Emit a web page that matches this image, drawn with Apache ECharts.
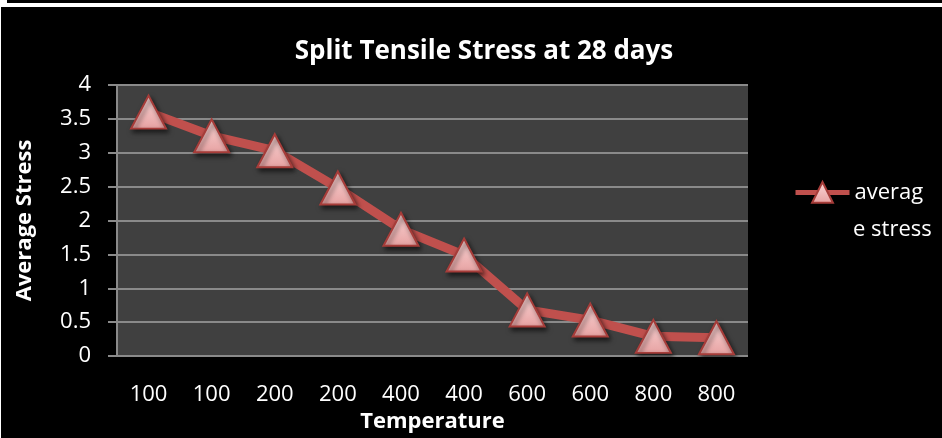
<!DOCTYPE html>
<html>
<head>
<meta charset="utf-8">
<script src="https://cdn.jsdelivr.net/npm/echarts@6/dist/echarts.min.js"></script>
<style>
  html, body { margin: 0; padding: 0; background: #000; }
  #chart { width: 942px; height: 438px; }
</style>
</head>
<body>
<div id="chart"></div>
<script>
// temperatures (x categories) and average split tensile stress
const temperatures = ['100', '100', '200', '200', '400', '400', '600', '600', '800', '800']
const avgStress = [3.6, 3.25, 3.03, 2.48, 1.87, 1.49, 0.68, 0.53, 0.29, 0.27]
const stressTicks = [0, 0.5, 1, 1.5, 2, 2.5, 3, 3.5, 4]

const font = 'Open Sans, Liberation Sans, sans-serif'
const chart = echarts.init(document.getElementById('chart'))

const option = {
  backgroundColor: '#000',
  animation: false,
  title: {
    text: 'Split Tensile Stress at 28 days',
    left: 479,
    top: 34,
    textAlign: 'center',
    textStyle: { color: '#fff', fontFamily: font, fontWeight: 'bold', fontSize: 26 }
  },
  legend: {
    left: 793,
    top: 181,
    padding: 0,
    itemWidth: 54,
    itemHeight: 26,
    formatter: () => 'averag',
    lineStyle: { width: 5 },
    textStyle: { color: '#fff', fontFamily: font, fontSize: 22 }
  },
  grid: {
    left: 117,
    top: 85,
    width: 631,
    height: 271,
    show: true,
    backgroundColor: '#404040',
    borderWidth: 0
  },
  xAxis: {
    type: 'category',
    data: temperatures,
    name: 'Temperature',
    nameLocation: 'middle',
    nameGap: 53,
    nameTextStyle: { color: '#fff', fontFamily: font, fontWeight: 'bold', fontSize: 22 },
    axisLine: { show: false },
    axisTick: { show: false },
    axisLabel: { color: '#fff', fontFamily: font, fontSize: 22, margin: 28 }
  },
  yAxis: {
    type: 'value',
    min: stressTicks[0],
    max: stressTicks[stressTicks.length - 1],
    interval: 0.5,
    name: 'Average Stress',
    nameLocation: 'middle',
    nameGap: 81,
    nameRotate: 90,
    nameTextStyle: { color: '#fff', fontFamily: font, fontWeight: 'bold', fontSize: 22 },
    axisLine: { show: true, lineStyle: { color: '#8a8a8a', width: 2 } },
    axisTick: { show: true, length: 9, lineStyle: { color: '#8a8a8a', width: 2 } },
    splitLine: { lineStyle: { color: '#8a8a8a', width: 2 } },
    axisLabel: { color: '#fff', fontFamily: font, fontSize: 22, margin: 26 }
  },
  series: [{
    name: 'average stress',
    type: 'line',
    data: avgStress,
    symbol: 'triangle',
    symbolSize: [35, 33],
    lineStyle: { color: '#c0504d', width: 9 },
    itemStyle: {
      color: new echarts.graphic.LinearGradient(0, 0, 0, 1, [
        { offset: 0, color: '#fcd8d8' },
        { offset: 1, color: '#e6a1a1' }
      ]),
      borderColor: '#a63c39',
      borderWidth: 2,
      shadowColor: 'rgba(0,0,0,0.6)',
      shadowBlur: 5,
      shadowOffsetX: 2,
      shadowOffsetY: 3
    }
  }],
  graphic: [
    { type: 'rect', shape: { x: 0, y: 3, width: 942, height: 4 }, style: { fill: '#fff' } },
    { type: 'rect', shape: { x: 0, y: 0, width: 7, height: 3 }, style: { fill: '#fff' } },
    { type: 'rect', shape: { x: 0, y: 0, width: 1, height: 438 }, style: { fill: '#fff' } },
    // second line of the wrapped legend label
    {
      type: 'text', left: 853, top: 219,
      style: { text: 'e stress', fill: '#fff', font: '22px ' + font }
    }
  ]
}

chart.setOption(option)
</script>
</body>
</html>
